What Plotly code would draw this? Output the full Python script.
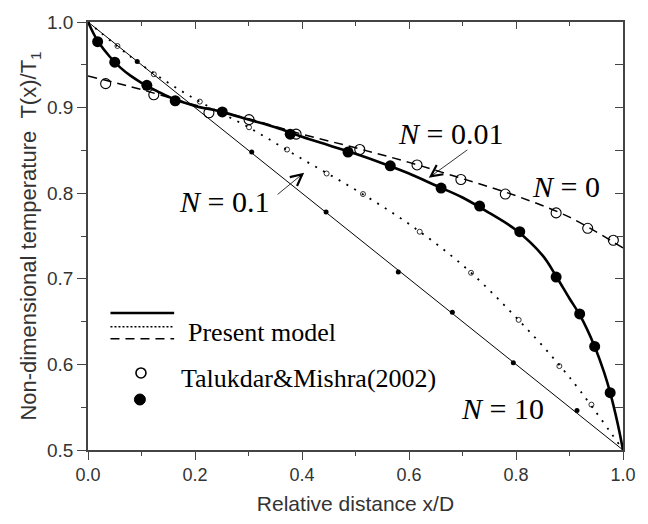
import plotly.graph_objects as go

# ---- model curves (Present model) ----
x_n0 = [0.0, 0.1, 0.2, 0.3, 0.4, 0.5, 0.6, 0.7, 0.8, 0.9, 1.0]
y_n0 = [0.937, 0.921, 0.903, 0.887, 0.869, 0.853, 0.836, 0.817, 0.797, 0.772, 0.736]

x_n001 = [0.0, 0.01, 0.02, 0.04, 0.06, 0.08, 0.1, 0.13, 0.16, 0.2, 0.25, 0.3, 0.35, 0.4,
          0.45, 0.5, 0.55, 0.6, 0.65, 0.7, 0.75, 0.8, 0.85, 0.875, 0.9, 0.92, 0.947,
          0.965, 0.976, 0.99, 1.0]
y_n001 = [1.0, 0.987, 0.976, 0.960, 0.947, 0.937, 0.929, 0.919, 0.910, 0.902, 0.895, 0.886,
          0.877, 0.866, 0.856, 0.846, 0.835, 0.823, 0.809, 0.795, 0.777, 0.757, 0.727,
          0.703, 0.677, 0.657, 0.621, 0.590, 0.567, 0.531, 0.50]

x_n01 = [0.0, 0.1, 0.2, 0.3, 0.4, 0.5, 0.6, 0.7, 0.8, 0.9, 1.0]
y_n01 = [1.0, 0.950, 0.910, 0.877, 0.840, 0.804, 0.764, 0.716, 0.655, 0.585, 0.50]

x_n10 = [0.0, 0.2, 0.4, 0.6, 0.8, 1.0]
y_n10 = [1.0, 0.900, 0.800, 0.700, 0.600, 0.50]

# ---- Talukdar & Mishra (2002) ----
xs_n0 = [0.033, 0.123, 0.226, 0.301, 0.389, 0.508, 0.615, 0.697, 0.780, 0.875, 0.934, 0.982]
ys_n0 = [0.928, 0.915, 0.894, 0.886, 0.869, 0.851, 0.833, 0.816, 0.799, 0.777, 0.759, 0.745]

xs_n001 = [0.018, 0.050, 0.110, 0.163, 0.251, 0.378, 0.486, 0.565, 0.660, 0.732, 0.807,
           0.875, 0.919, 0.947, 0.976]
ys_n001 = [0.977, 0.953, 0.926, 0.908, 0.895, 0.869, 0.848, 0.832, 0.806, 0.785, 0.755,
           0.702, 0.659, 0.621, 0.567]

xs_n01 = [0.055, 0.123, 0.209, 0.301, 0.372, 0.446, 0.514, 0.620, 0.716, 0.805, 0.881, 0.941]
ys_n01 = [0.972, 0.939, 0.907, 0.877, 0.851, 0.823, 0.799, 0.755, 0.707, 0.652, 0.598, 0.553]

xs_n10 = [0.092, 0.306, 0.445, 0.580, 0.681, 0.795, 0.914]
ys_n10 = [0.954, 0.848, 0.778, 0.708, 0.661, 0.602, 0.546]

x_ticks = [0.0, 0.2, 0.4, 0.6, 0.8, 1.0]
y_ticks = [0.5, 0.6, 0.7, 0.8, 0.9, 1.0]

SERIF = "Liberation Serif, Times New Roman, serif"
SANS = "Liberation Sans, Arial, sans-serif"
AX = "#444444"

fig = go.Figure()

# lines
fig.add_trace(go.Scatter(x=x_n0, y=y_n0, mode="lines", line=dict(color="black", width=1.5, dash="9px,6px"), line_shape="spline", hoverinfo="skip", showlegend=False))
fig.add_trace(go.Scatter(x=x_n001, y=y_n001, mode="lines", line=dict(color="black", width=2.6), line_shape="spline", hoverinfo="skip", showlegend=False))
fig.add_trace(go.Scatter(x=x_n01, y=y_n01, mode="lines", line=dict(color="black", width=1.8, dash="2px,7px"), line_shape="spline", hoverinfo="skip", showlegend=False))
fig.add_trace(go.Scatter(x=x_n10, y=y_n10, mode="lines", line=dict(color="black", width=1.0), hoverinfo="skip", showlegend=False))

# markers
fig.add_trace(go.Scatter(x=xs_n0, y=ys_n0, mode="markers", marker=dict(symbol="circle-open", size=10, color="black", line=dict(width=1.1)), showlegend=False))
fig.add_trace(go.Scatter(x=xs_n001, y=ys_n001, mode="markers", marker=dict(symbol="circle", size=11, color="black"), showlegend=False))
fig.add_trace(go.Scatter(x=xs_n01, y=ys_n01, mode="markers", marker=dict(symbol="circle-open", size=5, color="black", line=dict(width=0.8)), showlegend=False))
fig.add_trace(go.Scatter(x=xs_n10, y=ys_n10, mode="markers", marker=dict(symbol="circle", size=5, color="black"), showlegend=False))

# dummy trace for mirrored top/right axes
fig.add_trace(go.Scatter(x=x_n10, y=y_n10, xaxis="x2", yaxis="y2", mode="lines", line=dict(width=0), opacity=0, hoverinfo="skip", showlegend=False))

axis_common = dict(showline=True, linecolor=AX, linewidth=1.5, showgrid=False, zeroline=False,
                   tickcolor=AX, tickwidth=1.3)

fig.update_layout(
    width=648, height=524,
    margin=dict(l=88, r=15, t=17, b=72),
    plot_bgcolor="white", paper_bgcolor="white",
    xaxis=dict(range=[0, 1], tickvals=x_ticks, tickformat=".1f", ticks="outside", ticklen=8,
               minor=dict(dtick=0.1, ticks="outside", ticklen=4, tickcolor=AX, tickwidth=1.3),
               tickfont=dict(family=SANS, size=18, color="#333"),
               title=dict(text="Relative distance x/D", font=dict(family=SANS, size=21, color="#333"), standoff=12),
               **axis_common),
    yaxis=dict(range=[0.5, 1.0], tickvals=y_ticks, tickformat=".1f", ticks="outside", ticklen=9,
               minor=dict(dtick=0.05, ticks="outside", ticklen=5, tickcolor=AX, tickwidth=1.3),
               tickfont=dict(family=SANS, size=19, color="#333"),
               title=dict(text="Non-dimensional temperature\u00a0\u00a0T(x)/T<sub>1</sub>", font=dict(family=SANS, size=22, color="#333"), standoff=4),
               **axis_common),
    xaxis2=dict(overlaying="x", side="top", matches="x", range=[0, 1], tickvals=x_ticks, ticks="inside", ticklen=7,
                showticklabels=False,
                minor=dict(dtick=0.1, ticks="inside", ticklen=4, tickcolor=AX, tickwidth=1.3),
                **axis_common),
    yaxis2=dict(overlaying="y", side="right", matches="y", range=[0.5, 1.0], tickvals=y_ticks, ticks="inside", ticklen=8,
                showticklabels=False,
                minor=dict(dtick=0.05, ticks="inside", ticklen=8, tickcolor=AX, tickwidth=1.3),
                **axis_common),
)

# curve labels
labels = [
    ("<i>N</i> = 0.01", 0.677, 0.870),
    ("<i>N</i> = 0", 0.894, 0.808),
    ("<i>N</i> = 0.1", 0.255, 0.790),
    ("<i>N</i> = 10", 0.774, 0.549),
]
for txt, lx, ly in labels:
    fig.add_annotation(x=lx, y=ly, xref="x", yref="y", text=txt, showarrow=False,
                       font=dict(family=SERIF, size=30, color="black"))

# arrows
fig.add_annotation(x=0.637, y=0.818, xref="x", yref="y", text="", showarrow=True,
                   ax=40, ay=-29, arrowhead=5, arrowsize=2.8, arrowwidth=0.8, arrowcolor="black")
fig.add_annotation(x=0.404, y=0.824, xref="x", yref="y", text="", showarrow=True,
                   ax=-28, ay=23, arrowhead=5, arrowsize=2.8, arrowwidth=0.8, arrowcolor="black")

# custom legend
fig.add_shape(type="line", xref="x", yref="y", x0=0.042, x1=0.161, y0=0.660, y1=0.660, line=dict(color="black", width=2.6))
fig.add_shape(type="line", xref="x", yref="y", x0=0.042, x1=0.161, y0=0.644, y1=0.644, line=dict(color="black", width=1.5, dash="2px,2px"))
fig.add_shape(type="line", xref="x", yref="y", x0=0.042, x1=0.161, y0=0.630, y1=0.630, line=dict(color="black", width=1.5, dash="9px,6px"))
fig.add_shape(type="circle", xref="x", yref="y", xsizemode="pixel", ysizemode="pixel",
              xanchor=0.099, yanchor=0.590, x0=-5, x1=5, y0=-5, y1=5, line=dict(color="black", width=1.6), fillcolor="white")
fig.add_shape(type="circle", xref="x", yref="y", xsizemode="pixel", ysizemode="pixel",
              xanchor=0.097, yanchor=0.559, x0=-5.5, x1=5.5, y0=-5.5, y1=5.5, line=dict(color="black", width=1), fillcolor="black")
fig.add_annotation(x=0.183, y=0.637, xref="x", yref="y", text="Present model", showarrow=False,
                   xanchor="left", font=dict(family=SERIF, size=26, color="black"))
fig.add_annotation(x=0.171, y=0.583, xref="x", yref="y", text="Talukdar&amp;Mishra(2002)", showarrow=False,
                   xanchor="left", font=dict(family=SERIF, size=26, color="black"))

fig.write_html("out.html")
